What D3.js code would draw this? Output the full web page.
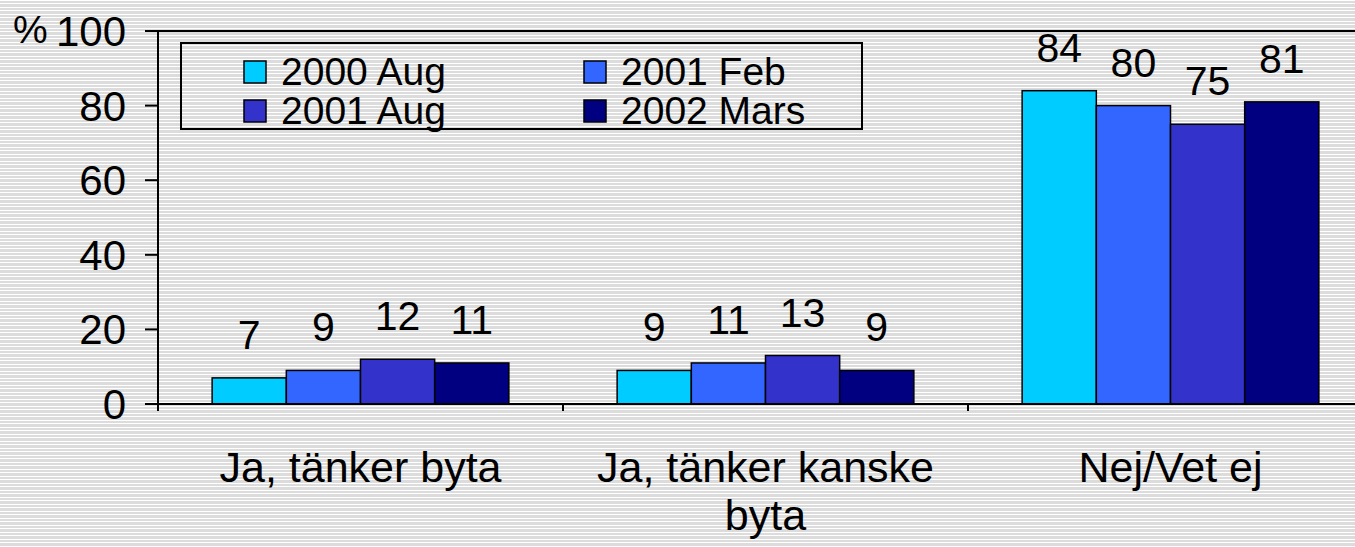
<!DOCTYPE html>
<html>
<head>
<meta charset="utf-8">
<script src="https://cdn.jsdelivr.net/npm/d3@7.9.0/dist/d3.min.js"></script>
<style>
  html, body { margin: 0; padding: 0; background: #dddddd; }
  svg { display: block; font-family: "Liberation Sans", Arial, sans-serif; }
</style>
</head>
<body>
<svg width="1355" height="547"></svg>
<script>
const categories = [["Ja, tänker byta"], ["Ja, tänker kanske", "byta"], ["Nej/Vet ej"]];
const seriesNames = ["2000 Aug", "2001 Feb", "2001 Aug", "2002 Mars"];
const seriesColors = ["#00ccff", "#3366ff", "#3333cc", "#000080"];
const values = [
  [7, 9, 12, 11],
  [9, 11, 13, 9],
  [84, 80, 75, 81]
];
const yTicks = [0, 20, 40, 60, 80, 100];

const svg = d3.select("svg");
const W = 1355, H = 547;

// striped background
const defs = svg.append("defs");
const pat = defs.append("pattern")
  .attr("id", "stripes").attr("patternUnits", "userSpaceOnUse")
  .attr("width", 8).attr("height", 7);
pat.append("rect").attr("width", 8).attr("height", 7).attr("fill", "#dcdcdc");
pat.append("rect").attr("y", 0).attr("width", 8).attr("height", 1).attr("fill", "#ffffff");
pat.append("rect").attr("y", 3).attr("width", 8).attr("height", 1).attr("fill", "#ffffff");
svg.append("rect").attr("width", W).attr("height", H).attr("fill", "url(#stripes)");

const plotL = 158, plotR = 1373, plotT = 31, plotB = 404;

const x0 = d3.scaleBand().domain(d3.range(categories.length)).range([plotL, plotR]);
const x1 = d3.scaleBand().domain(d3.range(seriesNames.length))
  .range([0, x0.bandwidth()]).paddingOuter(0.73).paddingInner(0);
const y = d3.scaleLinear().domain([0, 100]).range([plotB, plotT]);

// top frame line
svg.append("line").attr("x1", plotL).attr("x2", W).attr("y1", plotT).attr("y2", plotT)
  .attr("stroke", "#000").attr("stroke-width", 2);

// bars
const groups = svg.selectAll("g.cat").data(values).join("g")
  .attr("class", "cat")
  .attr("transform", (d, i) => `translate(${x0(i)},0)`);

groups.selectAll("rect").data(d => d).join("rect")
  .attr("x", (d, j) => x1(j))
  .attr("y", d => y(d))
  .attr("width", x1.bandwidth())
  .attr("height", d => y(0) - y(d))
  .attr("fill", (d, j) => seriesColors[j])
  .attr("stroke", "#000").attr("stroke-width", 1.5);

groups.selectAll("text").data(d => d).join("text")
  .attr("x", (d, j) => x1(j) + x1.bandwidth() / 2)
  .attr("y", d => y(d) - 29)
  .attr("text-anchor", "middle")
  .attr("font-size", 41)
  .text(d => d);

// y axis
const yAxis = svg.append("g");
yAxis.append("line").attr("x1", plotL).attr("x2", plotL).attr("y1", plotT).attr("y2", plotB + 7)
  .attr("stroke", "#000").attr("stroke-width", 2);
yAxis.selectAll("line.tick").data(yTicks).join("line")
  .attr("class", "tick")
  .attr("x1", plotL - 13).attr("x2", plotL)
  .attr("y1", d => y(d)).attr("y2", d => y(d))
  .attr("stroke", "#000").attr("stroke-width", 2);
yAxis.selectAll("text").data(yTicks).join("text")
  .attr("x", 126).attr("y", d => y(d) + 15)
  .attr("text-anchor", "end").attr("font-size", 42)
  .text(d => d);
svg.append("text").attr("x", 13).attr("y", 43).attr("font-size", 39).text("%");

// x axis
svg.append("line").attr("x1", plotL).attr("x2", W).attr("y1", plotB).attr("y2", plotB)
  .attr("stroke", "#000").attr("stroke-width", 2);
svg.selectAll("line.xtick").data(d3.range(1, categories.length)).join("line")
  .attr("class", "xtick")
  .attr("x1", i => x0(i)).attr("x2", i => x0(i))
  .attr("y1", plotB).attr("y2", plotB + 7)
  .attr("stroke", "#000").attr("stroke-width", 2);

svg.selectAll("text.catlabel").data(categories).join("text")
  .attr("class", "catlabel")
  .attr("text-anchor", "middle").attr("font-size", 43)
  .each(function (lines, i) {
    const t = d3.select(this);
    lines.forEach((ln, k) => {
      t.append("tspan")
        .attr("x", x0(i) + x0.bandwidth() / 2)
        .attr("y", 482 + k * 48)
        .text(ln);
    });
  });

// legend
const lg = svg.append("g");
lg.append("rect").attr("x", 181).attr("y", 43).attr("width", 681).attr("height", 86)
  .attr("fill", "none").attr("stroke", "#000").attr("stroke-width", 2);
const legX = [244, 584], legY = [61, 100];
seriesNames.forEach((name, i) => {
  const cx = legX[i % 2], cy = legY[Math.floor(i / 2)];
  lg.append("rect").attr("x", cx).attr("y", cy).attr("width", 22).attr("height", 22)
    .attr("fill", seriesColors[i]).attr("stroke", "#000").attr("stroke-width", 1.5);
  lg.append("text").attr("x", cx + 37).attr("y", cy + 24)
    .attr("font-size", 39).text(name);
});
</script>
</body>
</html>
